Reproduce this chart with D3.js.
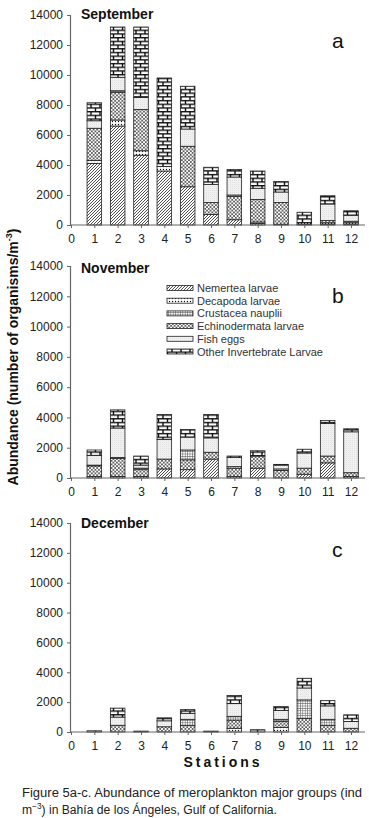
<!DOCTYPE html>
<html><head><meta charset="utf-8">
<script src="https://cdn.jsdelivr.net/npm/d3@7"></script>
<style>
html,body{margin:0;padding:0;background:#fff;}
svg{display:block;font-family:"Liberation Sans",Arial,sans-serif;}
</style></head>
<body><svg id="c" width="369" height="818"></svg>
<script>
// ---- data ----
const stations = [1,2,3,4,5,6,7,8,9,10,11,12];
const xTicks = [0,1,2,3,4,5,6,7,8,9,10,11,12];
const yTicks = [0,2000,4000,6000,8000,10000,12000,14000];
const groups = ["Nemertea larvae","Decapoda larvae","Echinodermata larvae","Crustacea nauplii","Fish eggs","Other Invertebrate Larvae"];
const legendOrder = ["Nemertea larvae","Decapoda larvae","Crustacea nauplii","Echinodermata larvae","Fish eggs","Other Invertebrate Larvae"];
const months = ["September","November","December"];
const panelLetters = ["a","b","c"];

// September values per group (stations 1..12)
const sepNemertea   = [4100,6600,4650,3600,2550, 700, 350, 100,  50,  50,  50,  50];
const sepDecapoda   = [ 200, 400, 300, 300,   0,   0,   0, 100,   0, 100, 100, 100];
const sepEchino     = [2150,1850,2750,   0,2700, 800,1550,1500,1450,   0, 150, 100];
const sepCrustacea  = [   0, 100,   0,   0,   0,   0, 100,   0,   0,   0,   0,   0];
const sepFishEggs   = [ 500, 900, 800,   0,1150,1200,1200, 750, 700,   0,1100, 400];
const sepOther      = [1200,3350,4700,5900,2850,1150, 500,1150, 700, 700, 550, 300];

// November
const novNemertea   = [ 100, 100, 100, 600, 550,1250, 100, 650,   0, 250,1000, 100];
const novDecapoda   = [   0,   0,   0,   0,   0,   0,   0,   0,   0,   0,   0,   0];
const novEchino     = [ 700,1200, 450, 650, 650, 450, 550, 800, 500, 400, 450, 250];
const novCrustacea  = [  50,  50, 100,   0, 650,   0, 100,   0, 100,   0,   0,   0];
const novFishEggs   = [ 650,1950, 200,1300, 850, 950, 600,   0, 250,1000,2150,2700];
const novOther      = [ 350,1200, 600,1650, 500,1550, 100, 350,  50, 250, 200, 200];

// December
const decNemertea   = [   0,   0,   0,   0,   0,   0,   0,   0,   0,   0,   0,   0];
const decDecapoda   = [   0,   0,   0,   0,   0,   0, 250,   0, 300,   0,   0,   0];
const decEchino     = [   0, 450,   0, 350, 450,   0, 550,   0, 400, 900, 450, 250];
const decCrustacea  = [   0,   0,   0,   0, 400,   0, 250,   0, 150,1250, 400,   0];
const decFishEggs   = [   0, 550,   0, 400, 400,   0, 850,   0, 600, 800, 900, 450];
const decOther      = [  80, 600,  60, 200, 250,  60, 550, 150, 250, 650, 350, 450];

const monthSeries = [
  [sepNemertea,sepDecapoda,sepEchino,sepCrustacea,sepFishEggs,sepOther],
  [novNemertea,novDecapoda,novEchino,novCrustacea,novFishEggs,novOther],
  [decNemertea,decDecapoda,decEchino,decCrustacea,decFishEggs,decOther]
];

// ---- drawing ----
const svg = d3.select("#c");
const defs = svg.append("defs");

function pat(id,w,h,draw){
  const p = defs.append("pattern").attr("id",id).attr("patternUnits","userSpaceOnUse")
    .attr("width",w).attr("height",h);
  draw(p);
}
pat("p-diag",3,3,p=>{
  p.append("rect").attr("width",3).attr("height",3).attr("fill","#fff");
  p.append("path").attr("d","M0,3L3,0M-1,1L1,-1M2,4L4,2").attr("stroke","#222").attr("stroke-width",0.8);
});
pat("p-cross",3.6,3.6,p=>{
  p.append("rect").attr("width",3.6).attr("height",3.6).attr("fill","#fff");
  p.append("path").attr("d","M0,0L3.6,3.6M3.6,0L0,3.6").attr("stroke","#333").attr("stroke-width",0.7);
});
pat("p-grid",2.4,2.4,p=>{
  p.append("rect").attr("width",2.4).attr("height",2.4).attr("fill","#fff");
  p.append("path").attr("d","M0,0.3H2.4M0.3,0V2.4").attr("stroke","#555").attr("stroke-width",0.6);
});
pat("p-dot",3,3,p=>{
  p.append("rect").attr("width",3).attr("height",3).attr("fill","#fff");
  p.append("circle").attr("cx",1.5).attr("cy",1.5).attr("r",0.7).attr("fill","#111");
});
pat("p-stip",2,2,p=>{
  p.append("rect").attr("width",2).attr("height",2).attr("fill","#f0f0f0");
  p.append("circle").attr("cx",0.5).attr("cy",0.5).attr("r",0.35).attr("fill","#b8b8b8");
});
pat("p-brick",9,7.4,p=>{
  p.append("rect").attr("width",9).attr("height",7.4).attr("fill","#fff");
  p.append("path").attr("d","M0,0.6H9M0,4.3H9M1,0V3.7M5.5,3.7V7.4").attr("stroke","#111").attr("stroke-width",1.4);
});
const fills = {
  "Nemertea larvae":"url(#p-diag)",
  "Decapoda larvae":"url(#p-dot)",
  "Echinodermata larvae":"url(#p-cross)",
  "Crustacea nauplii":"url(#p-grid)",
  "Fish eggs":"url(#p-stip)",
  "Other Invertebrate Larvae":"url(#p-brick)"
};

const panels = [
  {y0:225, y1:15, titleY:19, letterY:48},
  {y0:478, y1:266, titleY:273, letterY:303},
  {y0:732, y1:523, titleY:528, letterY:557}
];
const x = d3.scaleLinear().domain([0,12.6]).range([71,365]);
const barW = 14.6;

panels.forEach((P,i)=>{
  const y = d3.scaleLinear().domain([0,14000]).range([P.y0,P.y1]);
  const g = svg.append("g");
  const rows = stations.map((s,k)=>{
    const r = {station:s};
    groups.forEach((gname,j)=>{ r[gname] = monthSeries[i][j][k]; });
    return r;
  });
  const stack = d3.stack().keys(groups)(rows);
  stack.forEach(layer=>{
    g.append("g").selectAll("rect").data(layer.filter(d=>d[1]-d[0]>0)).join("rect")
      .attr("x",d=>x(d.data.station)-barW/2)
      .attr("width",barW)
      .attr("y",d=>y(d[1]))
      .attr("height",d=>y(d[0])-y(d[1]))
      .attr("fill",fills[layer.key])
      .attr("stroke","#222").attr("stroke-width",0.8);
  });
  // y axis
  const ya = g.append("g").attr("transform","translate(70,0)")
    .call(d3.axisLeft(y).tickValues(yTicks).tickSize(3).tickPadding(4).tickFormat(d3.format("d")));
  ya.select(".domain").attr("stroke","#666").attr("stroke-width",1.2);
  ya.selectAll(".tick line").attr("stroke","#666");
  ya.selectAll("text").attr("font-size",12).attr("fill","#222").attr("font-family","Liberation Sans,Arial,sans-serif");
  // x axis
  const xa = g.append("g").attr("transform",`translate(0,${P.y0})`)
    .call(d3.axisBottom(x).tickValues(xTicks).tickSize(3).tickPadding(6).tickFormat(d3.format("d")));
  xa.select(".domain").attr("stroke","#666").attr("stroke-width",1.2).attr("d",`M70,0H365`);
  xa.selectAll(".tick line").attr("stroke","#666");
  xa.selectAll("text").attr("font-size",12).attr("fill","#222").attr("font-family","Liberation Sans,Arial,sans-serif");
  // titles
  g.append("text").attr("x",81).attr("y",P.titleY).attr("font-weight","bold").attr("font-size",14).attr("fill","#111").text(months[i]);
  g.append("text").attr("x",332).attr("y",P.letterY).attr("font-size",21).attr("fill","#111").text(panelLetters[i]);
});

// legend (panel b)
const lg = svg.append("g");
legendOrder.forEach((name,k)=>{
  const yy = 288 + k*12.7;
  lg.append("rect").attr("x",167).attr("y",yy-2.5).attr("width",26).attr("height",5)
    .attr("fill",fills[name]).attr("stroke","#222").attr("stroke-width",0.8);
  lg.append("text").attr("x",197).attr("y",yy+4).attr("font-size",11).attr("fill","#333").text(name);
});

// y axis title
const yt = svg.append("text").attr("transform","translate(18,357) rotate(-90)")
  .attr("text-anchor","middle").attr("font-weight","bold").attr("font-size",14).attr("fill","#111");
yt.append("tspan").text("Abundance (number of organisms/m");
yt.append("tspan").attr("font-size",9).attr("dy",-6).text("-3");
yt.append("tspan").attr("dy",6).text(")");

// x axis title
svg.append("text").attr("x",223).attr("y",767).attr("text-anchor","middle")
  .attr("font-weight","bold").attr("font-size",14).attr("letter-spacing",3).attr("fill","#111").text("Stations");

// caption
svg.append("text").attr("x",22).attr("y",797).attr("font-size",12.5).attr("fill","#222")
  .attr("textLength",340).attr("lengthAdjust","spacingAndGlyphs")
  .text("Figure 5a-c. Abundance of meroplankton major groups (ind");
const c2 = svg.append("text").attr("x",22).attr("y",814).attr("font-size",12.5).attr("fill","#222")
  .attr("textLength",255).attr("lengthAdjust","spacingAndGlyphs");
c2.append("tspan").text("m");
c2.append("tspan").attr("font-size",8.5).attr("dy",-5).text("\u22123");
c2.append("tspan").attr("dy",5).text(") in Bahía de los Ángeles, Gulf of California.");
</script></body></html>
